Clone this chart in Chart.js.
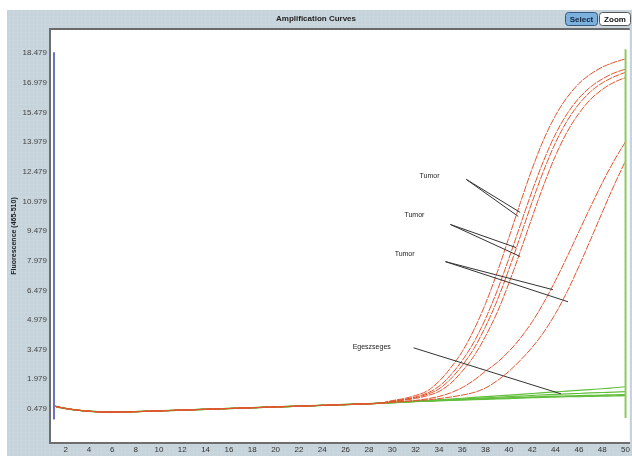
<!DOCTYPE html>
<html>
<head>
<meta charset="utf-8">
<script src="https://cdn.jsdelivr.net/npm/chart.js@4"></script>
<style>
html, body { margin: 0; padding: 0; background: #fff; }
canvas { display: block; }
</style>
</head>
<body>
<canvas id="chart" width="632" height="456"></canvas>
<script>
// cycles 1..50
let cycles = [1,2,3,4,5,6,7,8,9,10,11,12,13,14,15,16,17,18,19,20,21,22,23,24,25,
    26,27,28,29,30,31,32,33,34,35,36,37,38,39,40,41,42,43,44,45,46,47,48,49,50];

// shared baseline, cycles 1..29
let baseline = [0.62,0.50,0.42,0.36,0.33,0.32,0.33,0.34,0.36,0.38,0.40,0.42,0.44,0.46,0.48,
    0.50,0.52,0.54,0.56,0.58,0.60,0.62,0.64,0.66,0.68,0.70,0.72,0.74,0.77];

// cycles 30..50
let tumorA1 = [0.90,1.00,1.16,1.39,1.87,2.55,3.38,4.48,5.81,7.39,9.15,10.94,12.64,14.13,15.33,16.25,16.94,17.42,17.77,18.01,18.19];
let tumorA2 = [0.88,0.96,1.09,1.28,1.62,2.19,2.93,3.86,5.05,6.47,8.09,9.82,11.52,13.07,14.39,15.42,16.20,16.77,17.17,17.47,17.67];
let tumorA3 = [0.87,0.94,1.05,1.22,1.49,1.99,2.68,3.53,4.65,5.97,7.54,9.24,10.96,12.56,13.95,15.06,15.90,16.53,16.97,17.28,17.51];
let tumorA4 = [0.85,0.92,1.01,1.15,1.36,1.77,2.39,3.15,4.16,5.37,6.84,8.48,10.19,11.83,13.30,14.50,15.43,16.14,16.64,17.00,17.25];
let tumorB1 = [0.82,0.86,0.91,0.99,1.11,1.29,1.56,1.93,2.39,2.83,3.39,4.07,4.89,5.87,6.98,8.19,9.45,10.70,11.91,13.02,14.00];
let tumorB2 = [0.81,0.85,0.89,0.94,1.00,1.08,1.18,1.31,1.54,1.91,2.38,2.95,3.60,4.37,5.31,6.42,7.69,9.04,10.42,11.77,13.04];
let healthy1 = [0.81,0.84,0.87,0.90,0.94,0.98,1.02,1.06,1.10,1.14,1.18,1.22,1.26,1.30,1.34,1.38,1.42,1.46,1.50,1.55,1.60];
let healthy2 = [0.80,0.83,0.86,0.89,0.92,0.95,0.98,1.01,1.04,1.07,1.10,1.13,1.16,1.19,1.21,1.24,1.26,1.29,1.31,1.33,1.35];
let healthy3 = [0.80,0.83,0.86,0.88,0.91,0.93,0.96,0.98,1.00,1.02,1.04,1.06,1.08,1.10,1.12,1.13,1.15,1.16,1.17,1.19,1.20];
let healthy4 = [0.79,0.82,0.85,0.87,0.89,0.91,0.93,0.95,0.97,0.99,1.01,1.03,1.05,1.07,1.08,1.10,1.11,1.12,1.13,1.14,1.15];

let xTicks = [2,4,6,8,10,12,14,16,18,20,22,24,26,28,30,32,34,36,38,40,42,44,46,48,50];
let yTicks = [0.479,1.979,3.479,4.979,6.479,7.979,9.479,10.979,12.479,13.979,15.479,16.979,18.479];

// cursor lines at cycle 1 and cycle 50
let startCursor = [[1, 18.53], [1, -0.05]];
let endCursor = [[50, 18.68], [50, 0.02]];

// callouts: label, label position, line start, line ends (data units)
let calloutLabels = ['Tumor', 'Tumor', 'Tumor', 'Egeszseges'];
let calloutAt = [[33.2, 12.24], [31.9, 10.27], [31.06, 8.29], [28.24, 3.62]];
let calloutFrom = [[36.35, 12.09], [34.99, 9.81], [34.56, 7.93], [31.83, 3.57]];
let calloutTo = [
    [[40.97, 10.42], [40.8, 10.22]],
    [[40.62, 8.64], [40.97, 8.19]],
    [[43.78, 6.51], [45.07, 5.9]],
    [[44.47, 1.24]]
];

const toPoints = tail => baseline.concat(tail).map((v, i) => ({x: cycles[i], y: v}));

const red = '#e4552f';
const green = '#62bf3c';

function curve(tail, color, width, dash) {
    return {
        data: toPoints(tail),
        borderColor: color,
        borderWidth: width,
        borderDash: dash,
        pointRadius: 0,
        cubicInterpolationMode: 'monotone',
        fill: false
    };
}

// first dataset is drawn on top
let datasets = [
    {data: startCursor.map(p => ({x: p[0], y: p[1]})), borderColor: '#6b6fc0', borderWidth: 2, pointRadius: 0},
    {data: endCursor.map(p => ({x: p[0], y: p[1]})), borderColor: '#8acb5e', borderWidth: 2, pointRadius: 0},
    curve(tumorA1, red, 1, [7, 1]),
    curve(tumorA2, red, 1, [7, 1]),
    curve(tumorA3, red, 1, [7, 1]),
    curve(tumorA4, red, 1, [7, 1]),
    curve(tumorB1, red, 1, [7, 1]),
    curve(tumorB2, red, 1, [7, 1]),
    curve(healthy1, green, 1.2, []),
    curve(healthy2, green, 1.2, []),
    curve(healthy3, green, 1.4, []),
    curve(healthy4, green, 1.4, [])
];

const panel = {
    id: 'panel',
    beforeDraw(chart) {
        const c = chart.ctx, a = chart.chartArea;
        c.save();
        c.fillStyle = '#ffffff';
        c.fillRect(0, 0, chart.width, chart.height);
        c.fillStyle = '#c6d3db';
        c.fillRect(7, 10, chart.width - 7, chart.height - 10);
        c.fillStyle = 'rgba(255,255,255,0.07)';
        for (let x = 9; x < chart.width; x += 4) c.fillRect(x, 10, 1, chart.height - 10);
        for (let y = 12; y < chart.height; y += 4) c.fillRect(7, y, chart.width - 7, 1);
        c.fillStyle = '#ffffff';
        c.fillRect(a.left, a.top, a.right - a.left, a.bottom - a.top);
        c.fillStyle = '#6a6a6a';
        c.fillRect(a.left - 1, a.top - 1, a.right - a.left + 1, 2);
        c.restore();
    },
    afterDatasetsDraw(chart) {
        const c = chart.ctx, xs = chart.scales.x, ys = chart.scales.y;
        c.save();
        c.strokeStyle = '#333333';
        c.lineWidth = 1;
        calloutLabels.forEach((label, i) => {
            const fx = xs.getPixelForValue(calloutFrom[i][0]);
            const fy = ys.getPixelForValue(calloutFrom[i][1]);
            calloutTo[i].forEach(t => {
                c.beginPath();
                c.moveTo(fx, fy);
                c.lineTo(xs.getPixelForValue(t[0]), ys.getPixelForValue(t[1]));
                c.stroke();
            });
            c.fillStyle = '#222222';
            c.font = '7px "Liberation Sans", Arial, sans-serif';
            c.textAlign = 'center';
            c.textBaseline = 'middle';
            c.fillText(label, xs.getPixelForValue(calloutAt[i][0]), ys.getPixelForValue(calloutAt[i][1]));
        });
        c.restore();
    },
    afterDraw(chart) {
        const c = chart.ctx;
        c.save();
        c.lineWidth = 1;
        c.fillStyle = '#7cb1de';
        c.strokeStyle = '#35577e';
        c.beginPath();
        c.roundRect(565.5, 12.5, 32, 13, 3);
        c.fill();
        c.stroke();
        c.fillStyle = '#ffffff';
        c.strokeStyle = '#555555';
        c.beginPath();
        c.roundRect(599.5, 12.5, 31, 13, 3);
        c.fill();
        c.stroke();
        c.font = 'bold 8px "Liberation Sans", Arial, sans-serif';
        c.textAlign = 'center';
        c.textBaseline = 'middle';
        c.fillStyle = '#14233d';
        c.fillText('Select', 581.5, 19.5);
        c.fillStyle = '#111111';
        c.fillText('Zoom', 615, 19.5);
        c.restore();
    }
};

Chart.defaults.font.family = '"Liberation Sans", Arial, sans-serif';

let chart = new Chart(document.getElementById('chart').getContext('2d'), {
    type: 'line',
    data: {datasets: datasets},
    options: {
        responsive: false,
        devicePixelRatio: 1,
        animation: false,
        layout: {padding: 0},
        plugins: {
            legend: {display: false},
            tooltip: {enabled: false},
            title: {
                display: true,
                text: 'Amplification Curves',
                color: '#1e1e1e',
                font: {size: 8, weight: 'bold'},
                padding: {top: 14, bottom: 5.4}
            }
        },
        scales: {
            x: {
                type: 'linear',
                min: 0.66,
                max: 50.36,
                afterBuildTicks: s => { s.ticks = xTicks.map(v => ({value: v})); },
                afterFit: s => { s.height = 13; },
                grid: {drawOnChartArea: false, drawTicks: false},
                border: {color: '#6e6e6e', width: 2},
                ticks: {color: '#333', font: {size: 8}, padding: 2, maxRotation: 0, autoSkip: false}
            },
            y: {
                min: -1.245,
                max: 19.70,
                afterBuildTicks: s => { s.ticks = yTicks.map(v => ({value: v})); },
                afterFit: s => { s.width = 50; },
                grid: {drawOnChartArea: false, drawTicks: false},
                border: {color: '#6e6e6e', width: 2},
                ticks: {color: '#444', font: {size: 8}, padding: 3, callback: v => v.toFixed(3)},
                title: {
                    display: true,
                    text: 'Fluorescence (465-510)',
                    color: '#222',
                    font: {size: 7, weight: 'bold'},
                    padding: {top: 10, bottom: 0}
                }
            }
        }
    },
    plugins: [panel]
});
</script>
</body>
</html>
